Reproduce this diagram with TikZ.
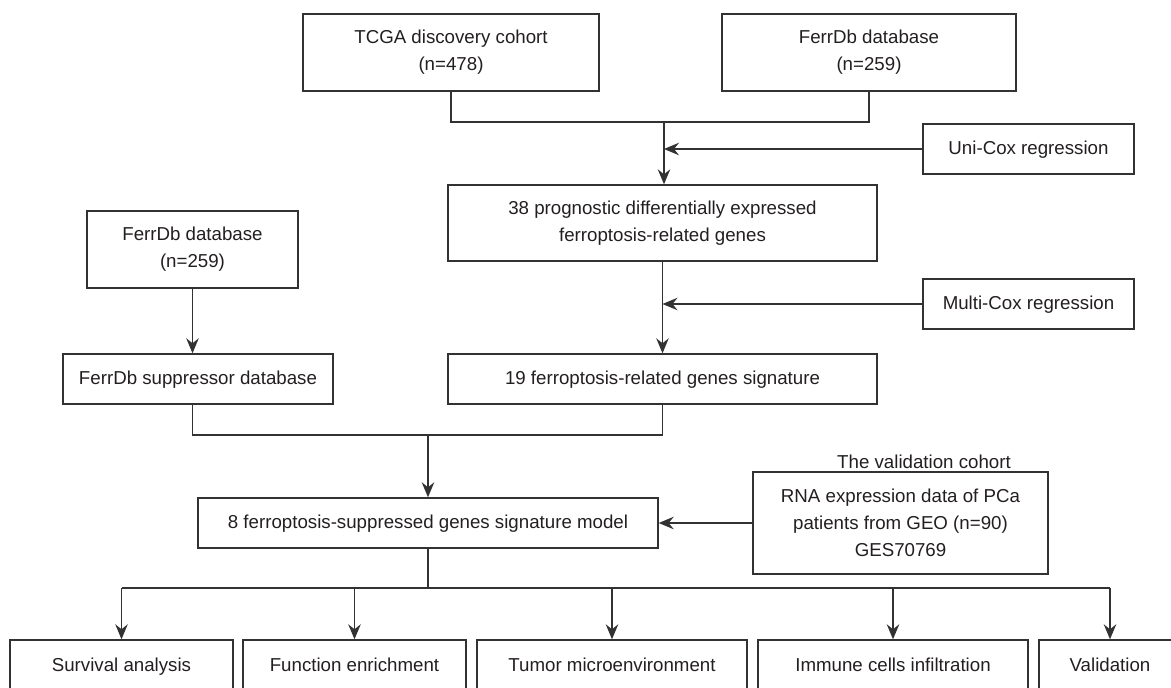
\documentclass[tikz,border=0pt]{standalone}
\usepackage{fontspec}
\setmainfont{Liberation Sans}
\usetikzlibrary{arrows.meta}
\definecolor{linec}{RGB}{50,50,50}
\definecolor{textc}{RGB}{35,31,32}
\tikzset{
  box/.style={draw=linec, line width=1.4pt, inner sep=0pt, align=center, text=textc,
    font=\fontsize{18.7}{27.3}\selectfont},
  conn/.style={draw=linec, line width=1.4pt},
  arr/.style={conn, -{Stealth[length=15pt,width=12.5pt,inset=5pt]}},
  lbl/.style={inner sep=0pt, text=textc, font=\fontsize{18.7}{27.3}\selectfont}
}
\begin{document}
\begin{tikzpicture}[x=1pt,y=-1pt]
\useasboundingbox (0,0) rectangle (1171,688);
% top row
\node[box, minimum width=296pt, minimum height=77pt] (tcga) at (451,52.5) {TCGA discovery cohort\\(n=478)};
\node[box, minimum width=294pt, minimum height=77pt] (ferr1) at (869,52.5) {FerrDb database\\(n=259)};
\node[box, minimum width=211pt, minimum height=50pt] (uni) at (1028.5,149) {\strut Uni-Cox regression};
\node[box, minimum width=429pt, minimum height=76pt] (p38) at (662.5,223) {38 prognostic differentially expressed\\ferroptosis-related genes};
\node[box, minimum width=211pt, minimum height=77pt] (ferr2) at (192.5,249.5) {FerrDb database\\(n=259)};
\node[box, minimum width=211pt, minimum height=50pt] (multi) at (1028.5,304) {\strut Multi-Cox regression};
\node[box, minimum width=270pt, minimum height=50pt] (supp) at (198,379) {\strut FerrDb suppressor database};
\node[box, minimum width=429pt, minimum height=50pt] (s19) at (662.5,379) {\strut 19 ferroptosis-related genes signature};
\node[box, minimum width=460pt, minimum height=50pt] (s8) at (428,523) {\strut 8 ferroptosis-suppressed genes signature model};
\node[box, minimum width=295pt, minimum height=102pt] (valc) at (900.5,523) {RNA expression data of PCa\\patients from GEO (n=90)\\GES70769};
\node[lbl] (vlab) at (924,462) {The validation cohort};
% bottom row
\node[box, minimum width=223pt, minimum height=52pt] (surv) at (121.5,666) {\strut Survival analysis};
\node[box, minimum width=223pt, minimum height=52pt] (func) at (354.5,666) {\strut Function enrichment};
\node[box, minimum width=270pt, minimum height=52pt] (tumor) at (612,666) {\strut Tumor microenvironment};
\node[box, minimum width=270pt, minimum height=52pt] (immune) at (893,666) {\strut Immune cells infiltration};
\node[box, minimum width=142pt, minimum height=52pt] (valid) at (1110,666) {\strut Validation};
% connectors
\coordinate (j1) at (664,122);
\draw[conn] (tcga.south) |- (j1) -| (ferr1.south);
\draw[arr] (j1) -- (j1 |- p38.north);
\draw[arr] (uni.west) -- (j1 |- uni.west);
\draw[arr] (p38.south) -- (s19.north);
\draw[arr] (multi.west) -- (p38.south |- multi.west);
\draw[arr] (ferr2.south) -- (ferr2.south |- supp.north);
\coordinate (j2) at (428,435);
\draw[conn] (ferr2.south |- supp.south) |- (j2) -| (s19.south);
\draw[arr] (j2) -- (s8.north);
\draw[arr] (valc.west) -- (s8.east);
\coordinate (j3) at (428,588);
\draw[conn] (s8.south) -- (j3);
\draw[conn] (surv.north |- j3) -- (valid.north |- j3);
\foreach \n in {surv,func,tumor,immune,valid}
  \draw[arr] (\n.north |- j3) -- (\n.north);
\end{tikzpicture}
\end{document}
